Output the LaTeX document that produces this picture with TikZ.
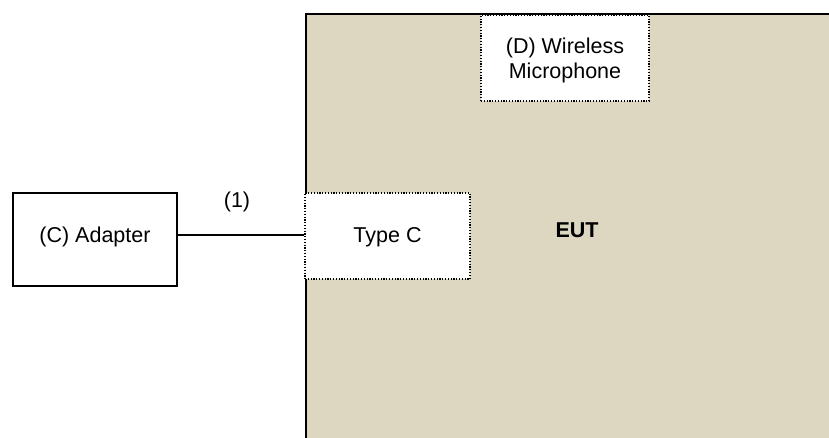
\documentclass[tikz,border=0pt]{standalone}
\usepackage{fontspec}
\setmainfont{Liberation Sans}
\definecolor{euttan}{HTML}{DDD7C1}
\begin{document}
\begin{tikzpicture}[x=1pt,y=-1pt,
  dotbox/.style={draw=black, fill=white, line width=1.6pt, dash pattern=on 1.2pt off 1.6pt, inner sep=0pt},
  solidbox/.style={draw=black, line width=1.8pt, fill=white, inner sep=0pt},
  lbl/.style={font=\fontsize{21.5}{25}\selectfont, align=center}]
\useasboundingbox (0,0) rectangle (829,438);
\clip (0,0) rectangle (829,438);
\node[draw=black, line width=2.2pt, fill=euttan, minimum width=600pt, minimum height=500pt, anchor=north west, inner sep=0pt] (eut) at (305,13) {};
\node[dotbox, minimum width=168pt, minimum height=86pt] (mic) at (565,58) {};
\node[lbl] (mictext) at (565,60) {(D) Wireless\\Microphone};
\node[dotbox, minimum width=165pt, minimum height=86pt] (typec) at (387.5,236) {};
\node[lbl] (typectext) at (387.5,237) {Type C};
\node[solidbox, minimum width=164pt, minimum height=93pt] (adapter) at (95,239.5) {};
\node[lbl] (adaptertext) at (95,237) {(C) Adapter};
\node[lbl, font=\fontsize{21.5}{25}\selectfont\bfseries] (euttext) at (577,230) {EUT};
\coordinate (a1) at (adapter.east |- 0,235);
\coordinate (t1) at (typec.west |- 0,235);
\draw[line width=1.2pt] (a1) -- (t1);
\node[lbl] (one) at (237,202) {(1)};
\end{tikzpicture}
\end{document}
